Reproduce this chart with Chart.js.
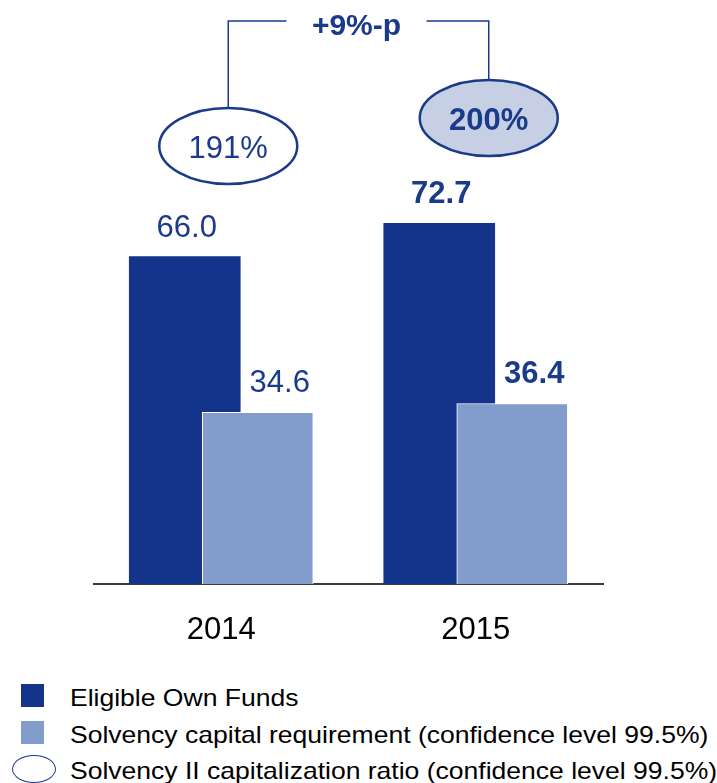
<!DOCTYPE html>
<html>
<head>
<meta charset="utf-8">
<script src="https://cdn.jsdelivr.net/npm/chart.js@4"></script>
<style>
    body { margin: 0; background: #fff; font-family: "Liberation Sans", Arial, sans-serif; }
    #wrap { position: relative; width: 717px; height: 783px; }
    #chart { position: absolute; left: 0; top: 0; }
    .legend-row { position: absolute; left: 70px; font-size: 24px; line-height: 24px; color: #000; white-space: nowrap; transform: scaleX(1.105); transform-origin: 0 0; }
    .legend-box { position: absolute; left: 21px; width: 23px; height: 23px; }
    .legend-oval { position: absolute; left: 12px; top: 755px; width: 42px; height: 26px; border: 1.3px solid #1b3a8c; border-radius: 50%; }
</style>
</head>
<body>
<div id="wrap">
    <canvas id="chart" width="717" height="650"></canvas>
    <div class="legend-box" style="top:684px;background:#13348a"></div>
    <div class="legend-row" style="top:686px">Eligible Own Funds</div>
    <div class="legend-box" style="top:721px;background:#829dcc"></div>
    <div class="legend-row" style="top:723px">Solvency capital requirement (confidence level 99.5%)</div>
    <div class="legend-oval"></div>
    <div class="legend-row" style="top:759px">Solvency II capitalization ratio (confidence level 99.5%)</div>
</div>
<script>
// dane z wykresu
const years = ['2014', '2015'];
const ownFunds = [66.0, 72.7];          // Eligible Own Funds
const capitalRequirement = [34.6, 36.4]; // Solvency capital requirement
const ratios = [191, 200];              // Solvency II ratio in %

const darkBlue = '#13348a';
const lightBlue = '#829dcc';
const textBlue = '#1a3a8a';
const fontFamily = '"Liberation Sans", Arial, sans-serif';

const barShift = 0.1434; // przesunięcie słupków względem środka roku (nachodzą na siebie)

// podpisy wartości nad słupkami
const valueLabels = {
    id: 'valueLabels',
    afterDatasetsDraw(chart) {
        const ctx = chart.ctx;
        ctx.save();
        ctx.fillStyle = textBlue;
        ctx.textAlign = 'center';
        ctx.textBaseline = 'alphabetic';
        chart.data.datasets.forEach((ds, dsIndex) => {
            const meta = chart.getDatasetMeta(dsIndex);
            meta.data.forEach((bar, i) => {
                const bold = i === years.length - 1;
                ctx.font = (bold ? 'bold ' : '') + '31px ' + fontFamily;
                const dx = dsIndex === 0 ? 2 : 22;
                ctx.fillText(ds.values[i].toFixed(1), bar.x + dx, bar.y - 20);
            });
        });
        ctx.restore();
    }
};

// owale ze wskaźnikiem wypłacalności i klamra ze zmianą
const ratioOvals = {
    id: 'ratioOvals',
    afterDraw(chart) {
        const ctx = chart.ctx;
        const x = chart.scales.x;
        const centers = [
            { x: x.getPixelForValue(0) + 7, y: 146 },
            { x: x.getPixelForValue(1) + 13, y: 118 }
        ];
        const rx = 69, ry = 38;
        const topY = 21;
        ctx.save();

        // klamra
        ctx.strokeStyle = textBlue;
        ctx.lineWidth = 1.5;
        const mid = (centers[0].x + centers[1].x) / 2 - 2;
        ctx.beginPath();
        ctx.moveTo(centers[0].x, centers[0].y - ry);
        ctx.lineTo(centers[0].x, topY);
        ctx.lineTo(mid - 70, topY);
        ctx.moveTo(mid + 70, topY);
        ctx.lineTo(centers[1].x, topY);
        ctx.lineTo(centers[1].x, centers[1].y - ry);
        ctx.stroke();

        ctx.fillStyle = textBlue;
        ctx.textAlign = 'center';
        ctx.textBaseline = 'alphabetic';
        ctx.font = 'bold 30px ' + fontFamily;
        const diff = ratios[1] - ratios[0];
        ctx.fillText((diff >= 0 ? '+' : '') + diff + '%-p', mid, 35);

        centers.forEach((c, i) => {
            const bold = i === ratios.length - 1;
            ctx.beginPath();
            ctx.ellipse(c.x, c.y, rx, ry, 0, 0, Math.PI * 2);
            if (bold) {
                ctx.fillStyle = '#c6cfe3';
                ctx.fill();
            }
            ctx.lineWidth = 2.5;
            ctx.strokeStyle = textBlue;
            ctx.stroke();
            ctx.fillStyle = textBlue;
            ctx.font = (bold ? 'bold ' : '') + '31px ' + fontFamily;
            ctx.fillText(ratios[i] + '%', c.x, c.y + 12);
        });
        ctx.restore();
    }
};

const ctx = document.getElementById('chart').getContext('2d');
new Chart(ctx, {
    type: 'bar',
    data: {
        datasets: [{
            label: 'Eligible Own Funds',
            values: ownFunds,
            data: ownFunds.map((v, i) => ({ x: i - barShift, y: v })),
            backgroundColor: darkBlue,
            borderWidth: 0,
            order: 1
        }, {
            label: 'Solvency capital requirement (confidence level 99.5%)',
            values: capitalRequirement,
            data: capitalRequirement.map((v, i) => ({ x: i + barShift, y: v })),
            backgroundColor: lightBlue,
            borderColor: '#ffffff',
            borderWidth: 1,
            order: 0
        }]
    },
    options: {
        responsive: false,
        animation: false,
        devicePixelRatio: 1,
        grouped: false,
        barThickness: 111,
        layout: { padding: { top: 88, bottom: 6, left: 94, right: 114 } },
        plugins: {
            legend: { display: false },
            tooltip: { enabled: false }
        },
        scales: {
            x: {
                type: 'linear',
                min: -0.5,
                max: 1.5,
                offset: false,
                grid: { display: false, offset: false },
                border: { display: true, color: '#3a3a3a', width: 2 },
                afterBuildTicks: scale => { scale.ticks = years.map((y, i) => ({ value: i })); },
                afterFit: scale => { scale.height = 60; },
                ticks: {
                    color: '#000',
                    padding: 20,
                    font: { family: fontFamily, size: 31 },
                    callback: value => years[value]
                }
            },
            y: {
                display: false,
                min: 0,
                max: 100
            }
        }
    },
    plugins: [valueLabels, ratioOvals]
});
</script>
</body>
</html>
